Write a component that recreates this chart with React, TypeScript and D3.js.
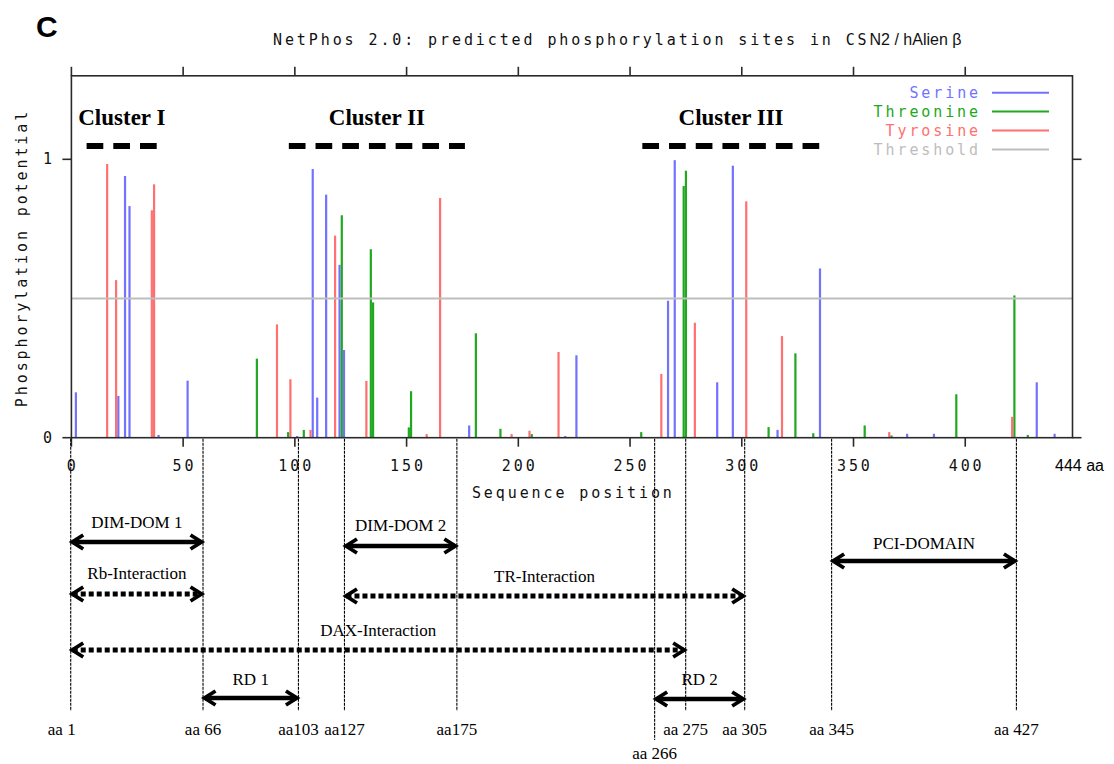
import React from "react";
import * as d3 from "d3";

// ---------- data ----------
// [sequence position, phosphorylation potential]
const serine: [number, number][] = [
  [2, 0.163], [21, 0.15], [24, 0.94], [26, 0.832], [39, 0.01], [52, 0.205],
  [101, 0.006], [108, 0.965], [110, 0.144], [114, 0.873], [120, 0.621], [122, 0.315],
  [178, 0.044], [221, 0.006], [226, 0.296], [267, 0.492], [270, 0.997], [289, 0.199],
  [296, 0.977], [316, 0.028], [335, 0.608], [374, 0.014], [386, 0.014], [432, 0.199],
  [440, 0.014],
];
const threonine: [number, number][] = [
  [83, 0.284], [97, 0.02], [104, 0.028], [121, 0.799], [134, 0.677], [135, 0.486],
  [151, 0.037], [152, 0.167], [181, 0.375], [192, 0.032], [206, 0.013], [255, 0.02],
  [274, 0.904], [275, 0.959], [312, 0.038], [324, 0.303], [332, 0.016], [355, 0.044],
  [367, 0.008], [396, 0.156], [422, 0.511], [428, 0.01],
];
const tyrosine: [number, number][] = [
  [16, 0.983], [20, 0.566], [36, 0.817], [37, 0.91], [92, 0.407], [98, 0.21],
  [107, 0.028], [118, 0.726], [132, 0.204], [159, 0.013], [165, 0.861], [197, 0.013],
  [205, 0.025], [218, 0.308], [264, 0.229], [279, 0.413], [302, 0.849], [318, 0.365],
  [366, 0.02], [421, 0.075],
];
const threshold = 0.5;
const xTicks = [0, 50, 100, 150, 200, 250, 300, 350, 400];
const yTicks = [0, 1];
const seriesNames = ["Serine", "Threonine", "Tyrosine", "Threshold"];

// clusters: [name, start, end] in sequence units
const clusters: [string, number, number][] = [
  ["Cluster I", 6.8, 38.3],
  ["Cluster II", 97.3, 176.1],
  ["Cluster III", 255.5, 334.9],
];

// domain boundaries: [label, drawn position in sequence units]
const boundaries: [string, number][] = [
  ["aa 1", -0.3], ["aa 66", 58.9], ["aa103", 101.6], ["aa127", 122.2], ["aa175", 172.5],
  ["aa 266", 261], ["aa 275", 274.9], ["aa 305", 301.3], ["aa 345", 340.2], ["aa 427", 422.9],
];

// regions: [label, from boundary, to boundary, kind]
const regions: [string, string, string, string][] = [
  ["DIM-DOM 1", "aa 1", "aa 66", "solid"],
  ["Rb-Interaction", "aa 1", "aa 66", "dotted"],
  ["DAX-Interaction", "aa 1", "aa 275", "dotted"],
  ["RD 1", "aa 66", "aa103", "solid"],
  ["DIM-DOM 2", "aa127", "aa175", "solid"],
  ["TR-Interaction", "aa127", "aa 305", "dotted"],
  ["PCI-DOMAIN", "aa 345", "aa 427", "solid"],
  ["RD 2", "aa 266", "aa 305", "solid"],
];

// ---------- layout / style ----------
const W = 1114;
const H = 764;
const colors: Record<string, string> = {
  Serine: "#7272ff",
  Threonine: "#20a820",
  Tyrosine: "#ff7070",
  Threshold: "#bdbdbd",
};
const regionRows: Record<string, { arrowY: number; labelY: number }> = {
  "DIM-DOM 1": { arrowY: 542, labelY: 528 },
  "Rb-Interaction": { arrowY: 594, labelY: 579 },
  "DAX-Interaction": { arrowY: 650, labelY: 636 },
  "RD 1": { arrowY: 698, labelY: 685 },
  "DIM-DOM 2": { arrowY: 546, labelY: 531 },
  "TR-Interaction": { arrowY: 596, labelY: 582 },
  "PCI-DOMAIN": { arrowY: 561, labelY: 549 },
  "RD 2": { arrowY: 699, labelY: 685 },
};
const MONO: React.CSSProperties = {
  fontFamily: "'DejaVu Sans Mono', monospace",
  fontSize: 15,
  letterSpacing: 2.9,
};
const SERIF = "'Liberation Serif', 'Times New Roman', serif";

export default function App() {
  const x = d3.scaleLinear().domain([0, 448]).range([71.4, 1072.5]);
  const y = d3.scaleLinear().domain([0, 1.3]).range([437.7, 75.8]);
  const [x0, x1] = x.range();
  const [yb, yt] = y.range();
  const bx = (label: string) => x(boundaries.find((b) => b[0] === label)![1]);

  const series: [string, [number, number][]][] = [
    ["Serine", serine],
    ["Threonine", threonine],
    ["Tyrosine", tyrosine],
  ];

  const chevron = (xp: number, yp: number, dir: number) =>
    `M${xp + dir * 11},${yp - 7} L${xp},${yp} L${xp + dir * 11},${yp + 7}`;

  return (
    <svg
      width={W}
      height={H}
      style={{ position: "absolute", left: 0, top: 0, background: "#fff" }}
    >
      <rect x={0} y={0} width={W} height={H} fill="#fff" />
      {/* panel letter */}
      <text x={36} y={37} fontFamily="'Liberation Sans', Arial, sans-serif" fontWeight="bold" fontSize={30}>
        C
      </text>
      {/* title */}
      <text x={273} y={45} fill="#111">
        <tspan style={MONO}>NetPhos 2.0: predicted phosphorylation sites in CS</tspan>
        <tspan fontFamily="'Liberation Sans', Arial, sans-serif" fontSize={16} letterSpacing={0}>
          N2 / hAlien β
        </tspan>
      </text>

      {/* bars */}
      {series.map(([name, data]) =>
        data.map(([p, v], i) => (
          <rect
            key={name + i}
            x={x(p) - 1.1}
            y={y(v)}
            width={2.2}
            height={yb - y(v)}
            fill={colors[name]}
          />
        ))
      )}
      {/* threshold */}
      <line x1={x0} x2={x1} y1={y(threshold)} y2={y(threshold)} stroke={colors.Threshold} strokeWidth={2} />

      {/* frame */}
      <rect x={x0} y={yt} width={x1 - x0} height={yb - yt} fill="none" stroke="#2a2a2a" strokeWidth={1.6} />
      {xTicks.map((t) => (
        <g key={"xt" + t}>
          <line x1={x(t)} x2={x(t)} y1={yb} y2={yb + 9} stroke="#2a2a2a" strokeWidth={1.6} />
          <line x1={x(t)} x2={x(t)} y1={yt} y2={yt - 9} stroke="#2a2a2a" strokeWidth={1.6} />
          <text x={x(t) + 1.4} y={471} textAnchor="middle" style={MONO} fill="#111">
            {t}
          </text>
        </g>
      ))}
      {yTicks.map((t) => (
        <g key={"yt" + t}>
          <line x1={x0 - 9} x2={x0} y1={y(t)} y2={y(t)} stroke="#2a2a2a" strokeWidth={1.6} />
          <line x1={x1} x2={x1 + 9} y1={y(t)} y2={y(t)} stroke="#2a2a2a" strokeWidth={1.6} />
          <text x={55} y={y(t) + 5} textAnchor="end" style={MONO} fill="#111">
            {t}
          </text>
        </g>
      ))}
      <text x={1055} y={471} fontFamily="'Liberation Sans', Arial, sans-serif" fontSize={16} fill="#000">
        444 aa
      </text>
      <text x={(x0 + x1) / 2 + 1.4} y={498} textAnchor="middle" style={MONO} fill="#111">
        Sequence position
      </text>
      <text transform="translate(27,258) rotate(-90)" textAnchor="middle" style={MONO} fill="#111">
        Phosphorylation potential
      </text>

      {/* legend */}
      {seriesNames.map((n, i) => (
        <g key={"lg" + n}>
          <text x={981} y={98 + i * 18.9} textAnchor="end" style={MONO} fill={colors[n]}>
            {n}
          </text>
          <line x1={992} x2={1049} y1={92.7 + i * 18.9} y2={92.7 + i * 18.9} stroke={colors[n]} strokeWidth={2} />
        </g>
      ))}

      {/* clusters */}
      {clusters.map(([n, s, e]) => (
        <g key={n}>
          <text
            x={(x(s) + x(e)) / 2}
            y={125}
            textAnchor="middle"
            fontFamily={SERIF}
            fontWeight="bold"
            fontSize={23}
          >
            {n}
          </text>
          <line
            x1={x(s)}
            x2={x(e)}
            y1={146}
            y2={146}
            stroke="#000"
            strokeWidth={6}
            strokeDasharray="16.7,10"
          />
        </g>
      ))}

      {/* domain boundary lines */}
      {boundaries.map(([lab, p]) => (
        <g key={"b" + lab}>
          <line
            x1={x(p)}
            x2={x(p)}
            y1={yb + 1}
            y2={lab === "aa 266" ? 740 : 711}
            stroke="#000"
            strokeWidth={1.1}
            strokeDasharray="3,1"
          />
          <text
            x={x(p) + (lab === "aa 1" ? -9 : 0)}
            y={lab === "aa 266" ? 759 : 735}
            textAnchor="middle"
            fontFamily={SERIF}
            fontSize={17}
          >
            {lab}
          </text>
        </g>
      ))}

      {/* region arrows */}
      {regions.map(([lab, a, b, kind]) => {
        const row = regionRows[lab];
        const xa = bx(a);
        const xb = bx(b);
        const yy = row.arrowY;
        return (
          <g key={"r" + lab}>
            <text
              x={(xa + xb) / 2}
              y={row.labelY}
              textAnchor="middle"
              fontFamily={SERIF}
              fontSize={17}
            >
              {lab}
            </text>
            <line
              x1={xa + 2}
              x2={xb - 2}
              y1={yy}
              y2={yy}
              stroke="#000"
              strokeWidth={kind === "solid" ? 4.5 : 5}
              strokeDasharray={kind === "solid" ? undefined : "5,3"}
            />
            <path d={chevron(xa + 1.5, yy, 1)} fill="none" stroke="#000" strokeWidth={3.8} strokeLinejoin="miter" />
            <path d={chevron(xb - 1.5, yy, -1)} fill="none" stroke="#000" strokeWidth={3.8} strokeLinejoin="miter" />
          </g>
        );
      })}
    </svg>
  );
}
